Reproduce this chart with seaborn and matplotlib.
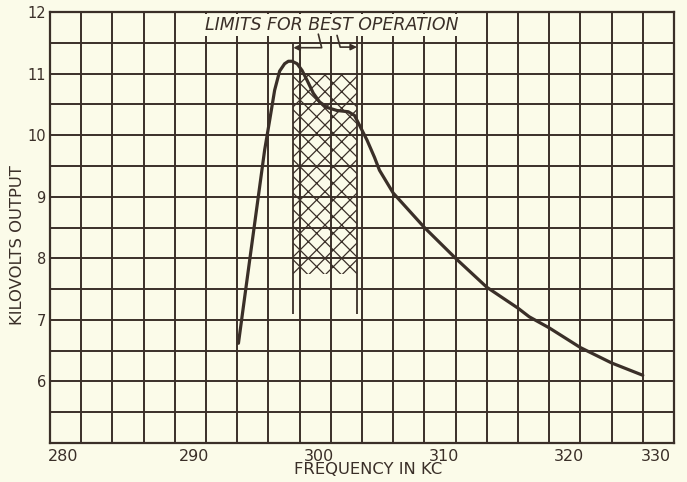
import numpy as np
import matplotlib
matplotlib.use("Agg")
import matplotlib.pyplot as plt
import seaborn as sns

# Output voltage of the generator against frequency
freq_kc = [295.1, 296.0, 296.65, 297.2, 297.6, 298.0, 298.4, 298.8, 299.1,
           299.4, 299.8, 300.2, 300.6, 301.1, 301.6, 302.2, 303.0, 303.9,
           304.4, 304.8, 305.4, 306.0, 306.4, 307.5, 310.0, 312.5, 315.0,
           317.5, 318.4, 320.0, 322.5, 325.0, 327.5]
kilovolts = [6.62, 7.97, 8.94, 9.76, 10.24, 10.73, 11.04, 11.16, 11.20,
             11.20, 11.16, 11.05, 10.89, 10.68, 10.54, 10.45, 10.40, 10.38,
             10.32, 10.16, 9.92, 9.64, 9.43, 9.06, 8.50, 8.00, 7.53,
             7.19, 7.05, 6.87, 6.55, 6.30, 6.10]

# Band of best operation
band_kc = [299.5, 304.6]
band_kv = [7.75, 11.0]
band_line_bottom = 7.1
band_line_tops = [11.5, 11.7]

x_tick_values = [280, 290, 300, 310, 320, 330]
x_tick_labels = ["280", "290", "300", "310", "320", "330"]
y_tick_values = [6, 7, 8, 9, 10, 11, 12]
y_tick_labels = ["6", "7", "8", "9", "10", "11", "12"]

title_text = "LIMITS FOR BEST OPERATION"
x_title = "FREQUENCY IN KC"
y_title = "KILOVOLTS OUTPUT"

paper = "#fbfbe9"
ink = "#3a2f28"

sns.set_theme(style="white")
plt.rcParams["font.family"] = ["DejaVu Sans"]
plt.rcParams["hatch.linewidth"] = 0.9

fig = plt.figure(figsize=(6.87, 4.82), dpi=100, facecolor=paper)
ax = fig.add_axes([50 / 687, 39 / 482, 624 / 687, 431 / 482])
ax.set_facecolor(paper)
ax.set_axisbelow(True)

ax.set_xlim(280, 330)
ax.set_ylim(5, 12)

# Graph-paper grid: 2.5 kc by 0.5 kV
ax.set_xticks(np.arange(280, 330.01, 2.5), minor=True)
ax.set_yticks(np.arange(5, 12.01, 0.5), minor=True)
ax.set_xticks(x_tick_values)
ax.set_xticklabels([])
ax.set_yticks(y_tick_values)
ax.set_yticklabels(y_tick_labels, fontsize=10.5, color=ink)
ax.grid(which="both", color=ink, linewidth=1.4)
ax.tick_params(axis="x", which="major", direction="out", length=10,
               width=1.3, color=ink)
ax.tick_params(axis="y", which="major", length=0, pad=3)
ax.tick_params(which="minor", length=0)
for side in ax.spines.values():
    side.set_color(ink)
    side.set_linewidth(1.6)

# Frequency labels sit beside their tick marks
for value, label in zip(x_tick_values, x_tick_labels):
    if value == x_tick_values[-1]:
        ha, dx = "right", -2
    elif value == x_tick_values[0]:
        ha, dx = "left", -1.5
    else:
        ha, dx = "left", 3
    ax.annotate(label, xy=(value, 5), xytext=(dx, -4),
                textcoords="offset points", ha=ha, va="top",
                fontsize=11.5, color=ink, annotation_clip=False)

# Cross-hatched operating band and its limit lines
ax.fill_between(band_kc, band_kv[0], band_kv[1], facecolor="none",
                edgecolor=ink, hatch="xx", linewidth=0, zorder=2)
ax.vlines(band_kc, band_line_bottom, band_line_tops, color=ink,
          linewidth=1.3, zorder=2)

sns.lineplot(x=freq_kc, y=kilovolts, ax=ax, color=ink, linewidth=2.3,
             estimator=None, sort=False, zorder=3)

ax.text(302.6, 11.79, title_text, ha="center", va="center", fontsize=12.5,
        style="italic", color=ink, zorder=4,
        bbox=dict(facecolor=paper, edgecolor="none", pad=1.5))

arrow_style = dict(arrowstyle="-|>", color=ink, lw=1.2, mutation_scale=9,
                   shrinkA=0, shrinkB=0)
ax.annotate("", xy=(band_kc[0], 11.42), xytext=(301.5, 11.64),
            arrowprops=dict(connectionstyle="angle,angleA=-76,angleB=0,rad=0",
                            **arrow_style), zorder=4)
ax.annotate("", xy=(band_kc[1], 11.43), xytext=(303.0, 11.62),
            arrowprops=dict(connectionstyle="angle,angleA=-75,angleB=0,rad=0",
                            **arrow_style), zorder=4)

ax.set_xlabel(x_title, fontsize=11.8, color=ink)
ax.xaxis.set_label_coords(0.51, -0.045)
ax.set_ylabel(y_title, fontsize=11.8, color=ink)
ax.yaxis.set_label_coords(-0.04, 0.46)

fig.savefig("out.png", dpi=100, facecolor=paper)
